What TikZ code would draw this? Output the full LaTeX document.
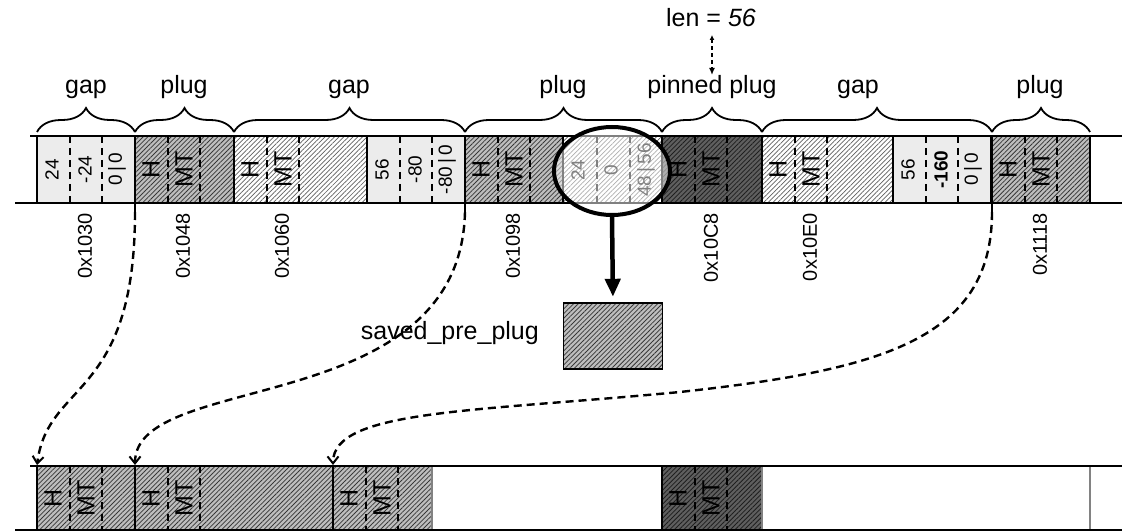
\documentclass[tikz,border=0pt]{standalone}
\usepackage{fontspec}
\setmainfont{Liberation Sans}
\usetikzlibrary{patterns.meta,arrows.meta,decorations.pathreplacing,shapes.geometric}
\definecolor{plugbg}{RGB}{190,190,190}
\definecolor{plugln}{RGB}{55,55,55}
\definecolor{lightln}{RGB}{95,95,95}
\definecolor{darkbg}{RGB}{95,95,95}
\definecolor{darkln}{RGB}{30,30,30}
\definecolor{gapbg}{RGB}{236,236,236}
\definecolor{cellgray}{RGB}{130,130,130}
\newcommand{\bigf}{\fontsize{25}{28}\selectfont}
\newcommand{\addrf}{\fontsize{20}{21}\selectfont}
\newcommand{\hmtf}{\fontsize{25}{26}\selectfont}
\newcommand{\numf}{\fontsize{19}{20}\selectfont}
\tikzset{
  hatchplug/.style={fill=plugbg, postaction={pattern={Lines[angle=45,distance=3.3pt,line width=0.8pt]}, pattern color=plugln}, postaction={draw=black, line width=1.8pt}},
  hatchlight/.style={fill=white, postaction={pattern={Lines[angle=45,distance=3.3pt,line width=0.7pt]}, pattern color=lightln}, postaction={draw=black, line width=1.8pt}},
  hatchdark/.style={fill=darkbg, postaction={pattern={Lines[angle=45,distance=3.3pt,line width=0.8pt]}, pattern color=darkln}, postaction={draw=black, line width=1.8pt}},
  gapcell/.style={fill=gapbg, draw=black, line width=1.8pt},
  emptycell/.style={fill=white, draw=cellgray, line width=1.8pt},
  divider/.style={draw=black, line width=2.6pt, dash pattern=on 7pt off 5pt},
  strip/.style={draw=black, line width=2.6pt},
  bracestyle/.style={draw=black, line width=1.8pt, decorate, decoration={brace, amplitude=24pt}},
  biglabel/.style={font=\bigf, anchor=base, inner sep=0pt},
  addr/.style={font=\addrf, rotate=90, anchor=east, inner sep=0pt},
  hmt/.style={font=\hmtf, rotate=90, inner sep=0pt},
  num/.style={font=\numf, rotate=90, inner sep=0pt},
  conn/.style={draw=black, line width=2.4pt, dash pattern=on 8pt off 5pt, -{Straight Barb[length=7pt,width=11pt,line width=2pt]}},
}
\newcommand{\hmtbox}[5]{%
  \path[#1] (#2,#4) rectangle (#3,#5);
  \draw[divider] (#2+33,#4) -- (#2+33,#5);
  \draw[divider] (#2+65,#4) -- (#2+65,#5);
  \node[hmt] at (#2+16,{(#4+#5)/2}) {H};
  \node[hmt] at (#2+49,{(#4+#5)/2}) {MT};
}
\newcommand{\gapbox}[6]{%
  \path[gapcell] (#1,#2) rectangle (#1+98,#3);
  \draw[divider] (#1+33,#2) -- (#1+33,#3);
  \draw[divider] (#1+65,#2) -- (#1+65,#3);
  \node[num] at (#1+15,{(#2+#3)/2}) {#4};
  \node[num] at (#1+48,{(#2+#3)/2}) {#5};
  \node[num] at (#1+80,{(#2+#3)/2}) {#6};
}
\begin{document}
\begin{tikzpicture}[x=1pt,y=-1pt]
\useasboundingbox (0,0) rectangle (1133,532);

% ---------- top strip ----------
\gapbox{37}{136}{203}{24}{-24}{0\,|\,0}
\hmtbox{hatchplug}{135}{234}{136}{203}
\hmtbox{hatchlight}{234}{367}{136}{203}
\gapbox{367}{136}{203}{56}{-80}{-80\,|\,0}
\hmtbox{hatchplug}{465}{563}{136}{203}
% region under the magnifier
\path[hatchlight] (563,136) rectangle (662,203);
\draw[divider] (597,136) -- (597,203);
\draw[divider] (630,136) -- (630,203);
\node[num] at (578,170) {24};
\node[num] at (611,170) {0};
\node[num] at (646,170) {48\,|\,56};
\hmtbox{hatchdark}{662}{762}{136}{203}
\hmtbox{hatchlight}{762}{893}{136}{203}
\gapbox{893}{136}{203}{56}{\textbf{-160}}{0\,|\,0}
\hmtbox{hatchplug}{992}{1090}{136}{203}

\draw[strip] (30,136) -- (1122,136);
\draw[strip] (15,203) -- (1122,203);

% braces
\draw[bracestyle] (37,132) -- (135,132);
\draw[bracestyle] (135,132) -- (234,132);
\draw[bracestyle] (234,132) -- (465,132);
\draw[bracestyle] (465,132) -- (662,132);
\draw[bracestyle] (662,132) -- (762,132);
\draw[bracestyle] (762,132) -- (992,132);
\draw[bracestyle] (992,132) -- (1090,132);
\node[biglabel] (lgap1) at (86,94) {gap};
\node[biglabel] (lplug1) at (184,94) {plug};
\node[biglabel] (lgap2) at (349,94) {gap};
\node[biglabel] (lplug2) at (563,94) {plug};
\node[biglabel] (lpin) at (712,94) {pinned plug};
\node[biglabel] (lgap3) at (858,94) {gap};
\node[biglabel] (lplug3) at (1040,94) {plug};

% len = 56
\node[biglabel] (len) at (711,27) {len = \textit{56}};
\draw[line width=1.8pt, dash pattern=on 4pt off 3pt, {Latex[length=5pt,width=5pt]}-{Latex[length=7pt,width=6pt]}] (712,35) -- (712,75);

% addresses
\node[addr] (a1) at (85,213) {0x1030};
\node[addr] (a2) at (183,213) {0x1048};
\node[addr] (a3) at (282,213) {0x1060};
\node[addr] (a4) at (513,213) {0x1098};
\node[addr] (a5) at (711,213) {0x10C8};
\node[addr] (a6) at (810,213) {0x10E0};
\node[addr] (a7) at (1040,213) {0x1118};

% magnifier
\node[ellipse, draw=black, line width=4pt, fill=white, fill opacity=0.5, minimum width=116pt, minimum height=88pt, inner sep=0pt] (mag) at (612,171) {};

% saved_pre_plug
\node[hatchplug, minimum width=99pt, minimum height=66pt, inner sep=0pt] (saved) at (613,336) {};
\node[font=\bigf, anchor=east, inner sep=0pt] (savedlbl) at (539,333) {saved\_pre\_plug};
\draw[line width=4.5pt, -{Triangle[length=18pt,width=15pt]}, shorten >=6pt] (mag.south) -- (saved.north);

% ---------- bottom strip ----------
\hmtbox{hatchplug}{37}{135}{466}{530}
\hmtbox{hatchplug}{135}{333}{466}{530}
\hmtbox{hatchplug}{333}{432}{466}{530}
\path[emptycell] (432,466) rectangle (662,530);
\hmtbox{hatchdark}{662}{762}{466}{530}
\path[emptycell] (762,466) rectangle (1090,530);
\draw[strip] (30,466) -- (1122,466);
\draw[strip] (15,530) -- (1122,530);

% connectors
\coordinate (t1) at (135,203);
\coordinate (t2) at (465,203);
\coordinate (t3) at (992,203);
\coordinate (t1d) at (135,212);
\coordinate (t2d) at (465,212);
\coordinate (t3d) at (992,212);
\coordinate (b1) at (37,465);
\coordinate (b2) at (135,465);
\coordinate (b3) at (333,465);
\coordinate (m3) at (680,392);
\draw[strip] (t1) -- (t1d);
\draw[strip] (t2) -- (t2d);
\draw[strip] (t3) -- (t3d);
\draw[conn] (t1d) .. controls (135,400) and (48,380) .. (b1);
\draw[conn] (t2d) .. controls (460,420) and (135,370) .. (b2);
\draw[conn] (t3d) .. controls (992,340) and (880,370) .. (m3) .. controls (470,412) and (333,410) .. (b3);
\end{tikzpicture}
\end{document}
